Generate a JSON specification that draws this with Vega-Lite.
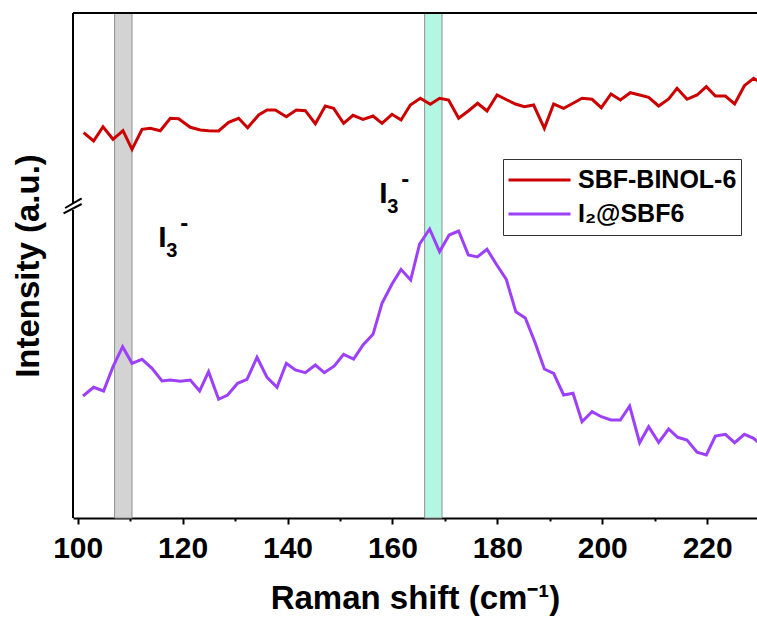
{
  "$schema": "https://vega.github.io/schema/vega-lite/v6.json",
  "width": 684,
  "height": 505,
  "autosize": {"type": "none"},
  "padding": {"left": 73, "top": 13, "right": 0, "bottom": 99},
  "background": "white",
  "config": {"view": {"stroke": null}, "font": "Liberation Sans"},
  "datasets": {
    "spectra": [
      {"x": 101.12, "y": 385.3, "s": "SBF-BINOL-6"},
      {"x": 103.03, "y": 377.0, "s": "SBF-BINOL-6"},
      {"x": 104.82, "y": 391.3, "s": "SBF-BINOL-6"},
      {"x": 106.73, "y": 378.7, "s": "SBF-BINOL-6"},
      {"x": 108.63, "y": 387.3, "s": "SBF-BINOL-6"},
      {"x": 110.35, "y": 368.7, "s": "SBF-BINOL-6"},
      {"x": 112.26, "y": 388.7, "s": "SBF-BINOL-6"},
      {"x": 113.84, "y": 389.7, "s": "SBF-BINOL-6"},
      {"x": 115.74, "y": 387.3, "s": "SBF-BINOL-6"},
      {"x": 117.65, "y": 399.7, "s": "SBF-BINOL-6"},
      {"x": 119.23, "y": 399.3, "s": "SBF-BINOL-6"},
      {"x": 121.46, "y": 390.7, "s": "SBF-BINOL-6"},
      {"x": 123.37, "y": 388.0, "s": "SBF-BINOL-6"},
      {"x": 124.95, "y": 387.3, "s": "SBF-BINOL-6"},
      {"x": 126.86, "y": 387.0, "s": "SBF-BINOL-6"},
      {"x": 128.77, "y": 395.7, "s": "SBF-BINOL-6"},
      {"x": 130.67, "y": 399.7, "s": "SBF-BINOL-6"},
      {"x": 132.39, "y": 390.3, "s": "SBF-BINOL-6"},
      {"x": 134.49, "y": 403.0, "s": "SBF-BINOL-6"},
      {"x": 136.09, "y": 408.0, "s": "SBF-BINOL-6"},
      {"x": 137.67, "y": 408.0, "s": "SBF-BINOL-6"},
      {"x": 139.77, "y": 401.3, "s": "SBF-BINOL-6"},
      {"x": 141.67, "y": 408.0, "s": "SBF-BINOL-6"},
      {"x": 143.39, "y": 407.3, "s": "SBF-BINOL-6"},
      {"x": 145.30, "y": 394.3, "s": "SBF-BINOL-6"},
      {"x": 147.20, "y": 412.0, "s": "SBF-BINOL-6"},
      {"x": 148.79, "y": 409.7, "s": "SBF-BINOL-6"},
      {"x": 150.69, "y": 394.7, "s": "SBF-BINOL-6"},
      {"x": 152.48, "y": 402.7, "s": "SBF-BINOL-6"},
      {"x": 154.39, "y": 398.7, "s": "SBF-BINOL-6"},
      {"x": 156.30, "y": 402.0, "s": "SBF-BINOL-6"},
      {"x": 158.01, "y": 394.7, "s": "SBF-BINOL-6"},
      {"x": 159.92, "y": 403.7, "s": "SBF-BINOL-6"},
      {"x": 161.64, "y": 398.0, "s": "SBF-BINOL-6"},
      {"x": 163.41, "y": 413.0, "s": "SBF-BINOL-6"},
      {"x": 165.32, "y": 419.7, "s": "SBF-BINOL-6"},
      {"x": 167.22, "y": 413.7, "s": "SBF-BINOL-6"},
      {"x": 169.00, "y": 419.7, "s": "SBF-BINOL-6"},
      {"x": 170.71, "y": 418.0, "s": "SBF-BINOL-6"},
      {"x": 172.62, "y": 399.7, "s": "SBF-BINOL-6"},
      {"x": 174.52, "y": 407.3, "s": "SBF-BINOL-6"},
      {"x": 176.24, "y": 414.7, "s": "SBF-BINOL-6"},
      {"x": 178.03, "y": 407.0, "s": "SBF-BINOL-6"},
      {"x": 179.94, "y": 423.0, "s": "SBF-BINOL-6"},
      {"x": 181.85, "y": 418.0, "s": "SBF-BINOL-6"},
      {"x": 183.43, "y": 414.0, "s": "SBF-BINOL-6"},
      {"x": 185.14, "y": 411.3, "s": "SBF-BINOL-6"},
      {"x": 186.92, "y": 413.0, "s": "SBF-BINOL-6"},
      {"x": 188.96, "y": 389.7, "s": "SBF-BINOL-6"},
      {"x": 190.73, "y": 414.0, "s": "SBF-BINOL-6"},
      {"x": 192.64, "y": 409.7, "s": "SBF-BINOL-6"},
      {"x": 194.43, "y": 414.7, "s": "SBF-BINOL-6"},
      {"x": 196.14, "y": 419.7, "s": "SBF-BINOL-6"},
      {"x": 198.05, "y": 418.7, "s": "SBF-BINOL-6"},
      {"x": 199.82, "y": 410.3, "s": "SBF-BINOL-6"},
      {"x": 201.67, "y": 424.0, "s": "SBF-BINOL-6"},
      {"x": 203.45, "y": 418.0, "s": "SBF-BINOL-6"},
      {"x": 205.35, "y": 425.3, "s": "SBF-BINOL-6"},
      {"x": 207.13, "y": 423.0, "s": "SBF-BINOL-6"},
      {"x": 208.84, "y": 420.7, "s": "SBF-BINOL-6"},
      {"x": 210.75, "y": 412.0, "s": "SBF-BINOL-6"},
      {"x": 212.66, "y": 419.0, "s": "SBF-BINOL-6"},
      {"x": 214.26, "y": 429.7, "s": "SBF-BINOL-6"},
      {"x": 216.16, "y": 418.7, "s": "SBF-BINOL-6"},
      {"x": 218.07, "y": 423.0, "s": "SBF-BINOL-6"},
      {"x": 219.84, "y": 431.3, "s": "SBF-BINOL-6"},
      {"x": 221.56, "y": 422.0, "s": "SBF-BINOL-6"},
      {"x": 223.47, "y": 422.0, "s": "SBF-BINOL-6"},
      {"x": 225.24, "y": 414.0, "s": "SBF-BINOL-6"},
      {"x": 227.09, "y": 432.3, "s": "SBF-BINOL-6"},
      {"x": 228.86, "y": 439.7, "s": "SBF-BINOL-6"},
      {"x": 230.52, "y": 434.0, "s": "SBF-BINOL-6"},
      {"x": 101.01, "y": 122.0, "s": "I₂@SBF6"},
      {"x": 103.03, "y": 130.7, "s": "I₂@SBF6"},
      {"x": 104.93, "y": 127.0, "s": "I₂@SBF6"},
      {"x": 106.73, "y": 151.3, "s": "I₂@SBF6"},
      {"x": 108.56, "y": 171.3, "s": "I₂@SBF6"},
      {"x": 110.35, "y": 154.7, "s": "I₂@SBF6"},
      {"x": 112.26, "y": 158.7, "s": "I₂@SBF6"},
      {"x": 114.16, "y": 149.7, "s": "I₂@SBF6"},
      {"x": 116.07, "y": 137.0, "s": "I₂@SBF6"},
      {"x": 117.65, "y": 138.0, "s": "I₂@SBF6"},
      {"x": 119.56, "y": 136.7, "s": "I₂@SBF6"},
      {"x": 121.46, "y": 138.0, "s": "I₂@SBF6"},
      {"x": 123.24, "y": 127.0, "s": "I₂@SBF6"},
      {"x": 124.95, "y": 146.3, "s": "I₂@SBF6"},
      {"x": 126.86, "y": 118.7, "s": "I₂@SBF6"},
      {"x": 128.58, "y": 123.0, "s": "I₂@SBF6"},
      {"x": 130.48, "y": 134.7, "s": "I₂@SBF6"},
      {"x": 132.27, "y": 138.7, "s": "I₂@SBF6"},
      {"x": 134.18, "y": 160.7, "s": "I₂@SBF6"},
      {"x": 136.09, "y": 140.7, "s": "I₂@SBF6"},
      {"x": 137.99, "y": 130.7, "s": "I₂@SBF6"},
      {"x": 139.77, "y": 154.7, "s": "I₂@SBF6"},
      {"x": 141.48, "y": 148.0, "s": "I₂@SBF6"},
      {"x": 143.39, "y": 145.3, "s": "I₂@SBF6"},
      {"x": 145.30, "y": 153.0, "s": "I₂@SBF6"},
      {"x": 147.01, "y": 145.3, "s": "I₂@SBF6"},
      {"x": 148.92, "y": 152.0, "s": "I₂@SBF6"},
      {"x": 150.69, "y": 163.7, "s": "I₂@SBF6"},
      {"x": 152.60, "y": 159.0, "s": "I₂@SBF6"},
      {"x": 154.39, "y": 173.0, "s": "I₂@SBF6"},
      {"x": 156.30, "y": 183.7, "s": "I₂@SBF6"},
      {"x": 158.01, "y": 214.7, "s": "I₂@SBF6"},
      {"x": 159.92, "y": 234.0, "s": "I₂@SBF6"},
      {"x": 161.64, "y": 248.5, "s": "I₂@SBF6"},
      {"x": 163.47, "y": 238.0, "s": "I₂@SBF6"},
      {"x": 165.18, "y": 274.0, "s": "I₂@SBF6"},
      {"x": 167.09, "y": 289.0, "s": "I₂@SBF6"},
      {"x": 168.98, "y": 266.3, "s": "I₂@SBF6"},
      {"x": 170.81, "y": 283.0, "s": "I₂@SBF6"},
      {"x": 172.62, "y": 287.0, "s": "I₂@SBF6"},
      {"x": 174.47, "y": 263.0, "s": "I₂@SBF6"},
      {"x": 176.18, "y": 261.0, "s": "I₂@SBF6"},
      {"x": 178.03, "y": 268.7, "s": "I₂@SBF6"},
      {"x": 179.90, "y": 253.0, "s": "I₂@SBF6"},
      {"x": 181.71, "y": 238.5, "s": "I₂@SBF6"},
      {"x": 183.52, "y": 206.3, "s": "I₂@SBF6"},
      {"x": 185.33, "y": 200.0, "s": "I₂@SBF6"},
      {"x": 187.24, "y": 174.7, "s": "I₂@SBF6"},
      {"x": 188.96, "y": 149.0, "s": "I₂@SBF6"},
      {"x": 190.73, "y": 144.7, "s": "I₂@SBF6"},
      {"x": 192.64, "y": 123.0, "s": "I₂@SBF6"},
      {"x": 194.43, "y": 124.7, "s": "I₂@SBF6"},
      {"x": 196.14, "y": 96.3, "s": "I₂@SBF6"},
      {"x": 198.05, "y": 106.3, "s": "I₂@SBF6"},
      {"x": 199.82, "y": 101.3, "s": "I₂@SBF6"},
      {"x": 201.67, "y": 98.0, "s": "I₂@SBF6"},
      {"x": 203.45, "y": 98.0, "s": "I₂@SBF6"},
      {"x": 205.22, "y": 112.0, "s": "I₂@SBF6"},
      {"x": 207.13, "y": 75.3, "s": "I₂@SBF6"},
      {"x": 208.84, "y": 91.3, "s": "I₂@SBF6"},
      {"x": 210.75, "y": 75.7, "s": "I₂@SBF6"},
      {"x": 212.66, "y": 89.0, "s": "I₂@SBF6"},
      {"x": 214.37, "y": 80.7, "s": "I₂@SBF6"},
      {"x": 216.16, "y": 78.0, "s": "I₂@SBF6"},
      {"x": 218.07, "y": 65.7, "s": "I₂@SBF6"},
      {"x": 219.84, "y": 63.0, "s": "I₂@SBF6"},
      {"x": 221.56, "y": 82.0, "s": "I₂@SBF6"},
      {"x": 223.47, "y": 83.7, "s": "I₂@SBF6"},
      {"x": 225.24, "y": 75.3, "s": "I₂@SBF6"},
      {"x": 227.09, "y": 83.7, "s": "I₂@SBF6"},
      {"x": 228.86, "y": 79.7, "s": "I₂@SBF6"},
      {"x": 230.52, "y": 72.0, "s": "I₂@SBF6"}
    ],
    "bands": [
      {"a": 107.03, "b": 110.35, "band": "gray"},
      {"a": 166.14, "b": 169.45, "band": "cyan"}
    ],
    "axisParts": [
      {"y0": 0, "y1": 308},
      {"y0": 314, "y1": 505}
    ],
    "breakMarks": [
      {"x": 97.3, "y": 304.7, "x2": 100.75, "y2": 314.0},
      {"x": 97.6, "y": 310.0, "x2": 100.75, "y2": 319.7}
    ],
    "labels": [
      {"x": 115.36, "y": 271},
      {"x": 157.5, "y": 315}
    ]
  },
  "layer": [
    {
      "data": {"name": "bands"},
      "mark": {"type": "rect", "stroke": "#8f8f8f", "strokeWidth": 1},
      "encoding": {
        "x": {
          "field": "a", "type": "quantitative",
          "scale": {"domain": [99.1, 229.5], "nice": false, "zero": false},
          "axis": {
            "values": [100, 110, 120, 130, 140, 150, 160, 170, 180, 190, 200, 210, 220],
            "labelExpr": "datum.value % 20 === 0 ? datum.label : ''",
            "tickSize": {"condition": {"test": "datum.value % 20 !== 0", "value": 3}, "value": 6},
            "tickWidth": 2, "tickColor": "black",
            "domainColor": "black", "domainWidth": 2,
            "grid": false,
            "labelFont": "Liberation Sans", "labelFontSize": 30, "labelFontWeight": "bold", "labelColor": "black",
            "labelPadding": 9, "labelFlush": false,
            "title": "Raman shift (cm⁻¹)",
            "titleFont": "Liberation Sans", "titleFontSize": 33, "titleFontWeight": "bold", "titleColor": "black",
            "titlePadding": 19
          }
        },
        "x2": {"field": "b"},
        "y": {
          "datum": 0, "type": "quantitative",
          "scale": {"domain": [0, 505], "nice": false, "zero": false},
          "axis": {
            "title": "Intensity (a.u.)",
            "labels": false, "ticks": false, "domain": false, "grid": false,
            "titleFont": "Liberation Sans", "titleFontSize": 33, "titleFontWeight": "bold", "titleColor": "black",
            "titlePadding": 28
          }
        },
        "y2": {"datum": 505},
        "fill": {
          "field": "band", "type": "nominal",
          "scale": {"domain": ["gray", "cyan"], "range": ["#d3d3d3", "#b3f7e2"]},
          "legend": null
        }
      }
    },
    {
      "data": {"name": "spectra"},
      "mark": {"type": "line", "strokeWidth": 3, "clip": true},
      "encoding": {
        "x": {"field": "x", "type": "quantitative"},
        "y": {"field": "y", "type": "quantitative"},
        "color": {
          "field": "s", "type": "nominal",
          "scale": {"domain": ["SBF-BINOL-6", "I₂@SBF6"], "range": ["#cc0000", "#9c40fb"]},
          "legend": {
            "title": null,
            "orient": "none", "legendX": 430, "legendY": 146,
            "symbolType": "stroke", "symbolSize": 3844, "symbolStrokeWidth": 3,
            "labelFont": "Liberation Sans", "labelFontSize": 25, "labelFontWeight": "bold", "labelColor": "black",
            "labelOffset": 6, "labelLimit": 400,
            "strokeColor": "#333333", "fillColor": "white",
            "padding": 4, "clipHeight": 34, "rowPadding": 0
          }
        }
      }
    },
    {
      "data": {"values": [{}]},
      "mark": {"type": "rule", "color": "black", "strokeWidth": 2},
      "encoding": {"y": {"datum": 505, "type": "quantitative"}}
    },
    {
      "data": {"name": "axisParts"},
      "mark": {"type": "rule", "color": "black", "strokeWidth": 2, "clip": false},
      "encoding": {
        "x": {"datum": 99.1, "type": "quantitative"},
        "y": {"field": "y0", "type": "quantitative"},
        "y2": {"field": "y1"}
      }
    },
    {
      "data": {"name": "breakMarks"},
      "mark": {"type": "rule", "color": "black", "strokeWidth": 2, "clip": false},
      "encoding": {
        "x": {"field": "x", "type": "quantitative"},
        "x2": {"field": "x2"},
        "y": {"field": "y", "type": "quantitative"},
        "y2": {"field": "y2"}
      }
    },
    {
      "data": {"name": "labels"},
      "mark": {"type": "text", "align": "left", "baseline": "alphabetic", "font": "Liberation Sans", "fontSize": 30, "fontWeight": "bold", "color": "black"},
      "encoding": {
        "x": {"field": "x", "type": "quantitative"},
        "y": {"field": "y", "type": "quantitative"},
        "text": {"value": "I"}
      }
    },
    {
      "data": {"name": "labels"},
      "mark": {"type": "text", "align": "left", "baseline": "alphabetic", "font": "Liberation Sans", "fontSize": 20, "fontWeight": "bold", "color": "black", "dx": 8, "dy": 10},
      "encoding": {
        "x": {"field": "x", "type": "quantitative"},
        "y": {"field": "y", "type": "quantitative"},
        "text": {"value": "3"}
      }
    },
    {
      "data": {"name": "labels"},
      "mark": {"type": "text", "align": "left", "baseline": "alphabetic", "font": "Liberation Sans", "fontSize": 24, "fontWeight": "bold", "color": "black", "dx": 22, "dy": -16},
      "encoding": {
        "x": {"field": "x", "type": "quantitative"},
        "y": {"field": "y", "type": "quantitative"},
        "text": {"value": "-"}
      }
    }
  ]
}
